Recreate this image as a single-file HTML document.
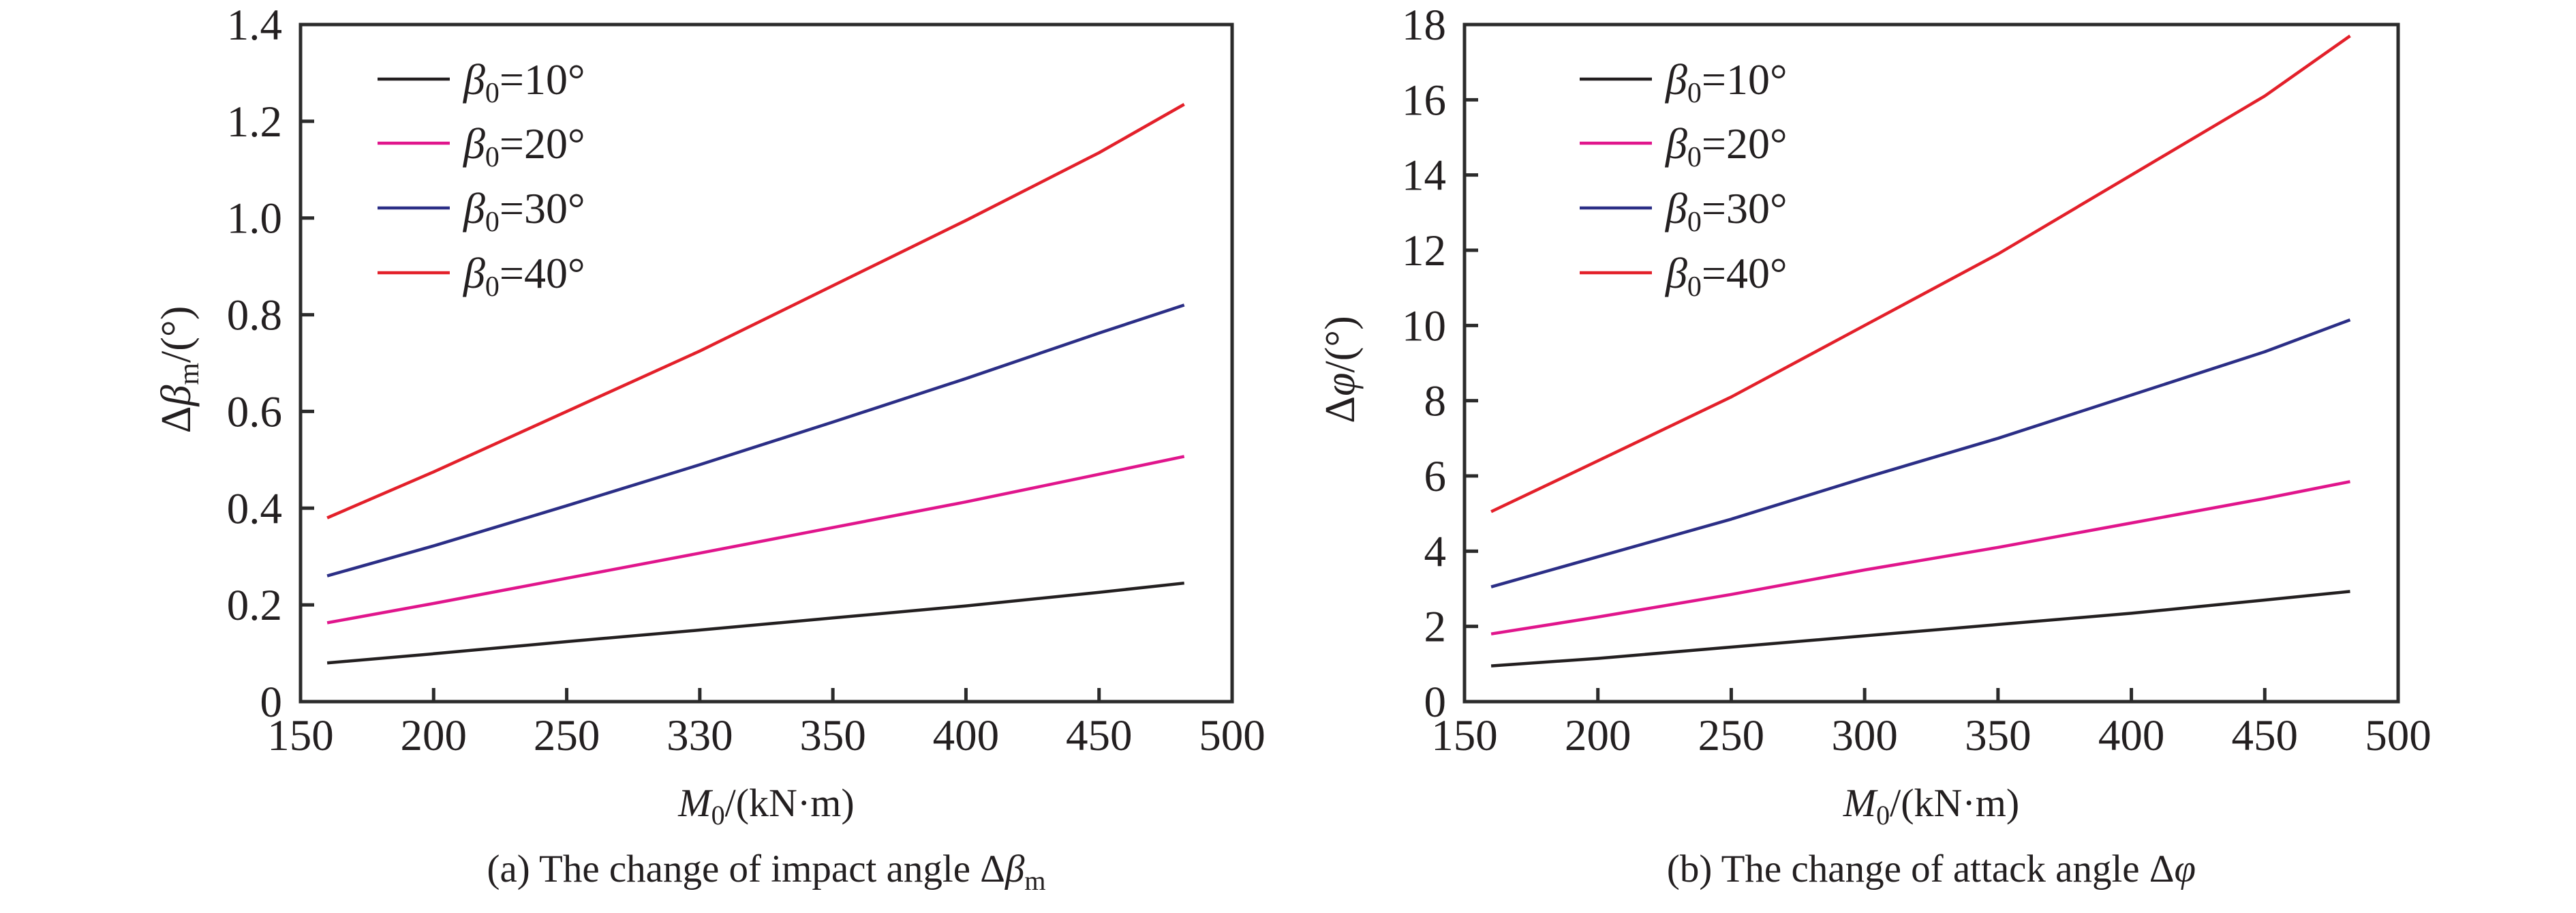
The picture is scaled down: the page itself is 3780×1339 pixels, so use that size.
<!DOCTYPE html>
<html><head><meta charset="utf-8"><style>
html,body{margin:0;padding:0;background:#fff;}
svg{display:block;font-family:"Liberation Serif","Times New Roman",serif;}
</style></head><body>
<svg id="chart" width="3780" height="1339" viewBox="0 0 3780 1339" xmlns="http://www.w3.org/2000/svg"></svg>
<script>
const mValues = [160, 200, 250, 300, 350, 400, 450, 482];
const seriesNames = ['10', '20', '30', '40'];
const leftBlack = [0.08, 0.099, 0.124, 0.148, 0.173, 0.198, 0.226, 0.245];
const leftPink = [0.163, 0.203, 0.255, 0.307, 0.36, 0.413, 0.47, 0.507];
const leftBlue = [0.26, 0.322, 0.405, 0.49, 0.578, 0.668, 0.762, 0.82];
const leftRed = [0.38, 0.475, 0.60, 0.725, 0.86, 0.995, 1.135, 1.235];
const rightBlack = [0.95, 1.15, 1.45, 1.75, 2.05, 2.35, 2.7, 2.93];
const rightPink = [1.8, 2.25, 2.85, 3.5, 4.1, 4.75, 5.4, 5.85];
const rightBlue = [3.05, 3.85, 4.85, 5.95, 7.0, 8.15, 9.3, 10.15];
const rightRed = [5.05, 6.4, 8.1, 10.0, 11.9, 14.0, 16.1, 17.7];
const xTicksLeft = ['150', '200', '250', '330', '350', '400', '450', '500'];
const xTicksRight = ['150', '200', '250', '300', '350', '400', '450', '500'];
const yTicksLeft = ['0', '0.2', '0.4', '0.6', '0.8', '1.0', '1.2', '1.4'];
const yTicksRight = ['0', '2', '4', '6', '8', '10', '12', '14', '16', '18'];

const NS = 'http://www.w3.org/2000/svg';
const svg = document.getElementById('chart');
const colors = ['#231f20', '#e0158c', '#2b2e86', '#e3202a'];
function el(tag, attrs, parent) {
  const e = document.createElementNS(NS, tag);
  for (const k in attrs) e.setAttribute(k, attrs[k]);
  (parent || svg).appendChild(e);
  return e;
}

function drawPanel(p) {
  const g = el('g', {});
  
  
  const x0 = p.left, x1 = p.right, yB = 1029, yT = 36;
  const xs = v => x0 + (v - 150) / 350 * (x1 - x0);
  const ys = v => yB - v / p.ymax * (yB - yT);
  p.series.forEach((vals, i) => {
    const d = vals.map((v, j) => (j ? 'L' : 'M') + xs(mValues[j]).toFixed(1) + ' ' + ys(v).toFixed(1)).join(' ');
    const path = el('path', {d: d, fill: 'none', stroke: colors[i], 'stroke-width': 4.5, 'stroke-linejoin': 'round'}, g);
    
    
  });
  const box = el('rect', {x: x0, y: yT, width: x1 - x0, height: yB - yT, fill: 'none', stroke: '#2b2b2b', 'stroke-width': 5}, g);
  
  
  p.xticks.forEach((t, i) => {
    const x = x0 + i * (x1 - x0) / 7;
    if (i > 0 && i < 7) el('line', {x1: x, x2: x, y1: yB, y2: yB - 20, stroke: '#2b2b2b', 'stroke-width': 5}, g);
    const tx = el('text', {x: x, y: 1100, 'font-size': 65, 'text-anchor': 'middle', fill: '#231f20'}, g);
    tx.textContent = t;
    
    
  });
  p.yticks.forEach((t, i) => {
    const y = yB - i * (yB - yT) / (p.yticks.length - 1);
    if (i > 0 && i < p.yticks.length - 1) el('line', {x1: x0, x2: x0 + 20, y1: y, y2: y, stroke: '#2b2b2b', 'stroke-width': 5}, g);
    const ty = el('text', {x: x0 - 27, y: y + 22, 'font-size': 65, 'text-anchor': 'end', fill: '#231f20'}, g);
    ty.textContent = t;
    
    
  });
  const legend = el('g', {}, g);
  
  
  [116, 210, 305, 400].forEach((y, i) => {
    el('line', {x1: p.legX, x2: p.legX + 106, y1: y, y2: y, stroke: colors[i], 'stroke-width': 4.5}, legend);
    const lt = el('text', {x: p.legX + 126, y: y + 22, 'font-size': 64, fill: '#231f20'}, legend);
    lt.innerHTML = '<tspan font-style="italic">β</tspan><tspan font-size="42" dy="12">0</tspan><tspan dy="-12">=' + seriesNames[i] + '°</tspan>';
    
    
  });
  const xt = el('text', {x: (x0 + x1) / 2, y: 1197, 'font-size': 58, 'text-anchor': 'middle', fill: '#231f20'}, g);
  xt.innerHTML = '<tspan font-style="italic">M</tspan><tspan font-size="40" dy="12">0</tspan><tspan dy="-12">/(kN·m)</tspan>';
  
  
  const yt = el('text', {x: 0, y: 0, 'font-size': 62, 'text-anchor': 'middle', fill: '#231f20', transform: 'translate(' + (x0 - 162) + ',542) rotate(-90)'}, g);
  yt.innerHTML = p.ytitle;
  
  
  const cap = el('text', {x: (x0 + x1) / 2, y: 1293, 'font-size': 57, 'text-anchor': 'middle', fill: '#231f20'}, g);
  cap.innerHTML = p.caption;
  
  
}

drawPanel({name: 'panel-a-impact-angle', left: 441, right: 1808, ymax: 1.4,
  series: [leftBlack, leftPink, leftBlue, leftRed], xticks: xTicksLeft, yticks: yTicksLeft, legX: 554,
  ytitle: 'Δ<tspan font-style="italic">β</tspan><tspan font-size="42" dy="12">m</tspan><tspan dy="-12">/(°)</tspan>',
  caption: '(a) The change of impact angle Δ<tspan font-style="italic">β</tspan><tspan font-size="40" dy="12">m</tspan>'});
drawPanel({name: 'panel-b-attack-angle', left: 2149, right: 3519, ymax: 18,
  series: [rightBlack, rightPink, rightBlue, rightRed], xticks: xTicksRight, yticks: yTicksRight, legX: 2318,
  ytitle: 'Δ<tspan font-style="italic">φ</tspan>/(°)',
  caption: '(b) The change of attack angle Δ<tspan font-style="italic">φ</tspan>'});
</script>
</body></html>
